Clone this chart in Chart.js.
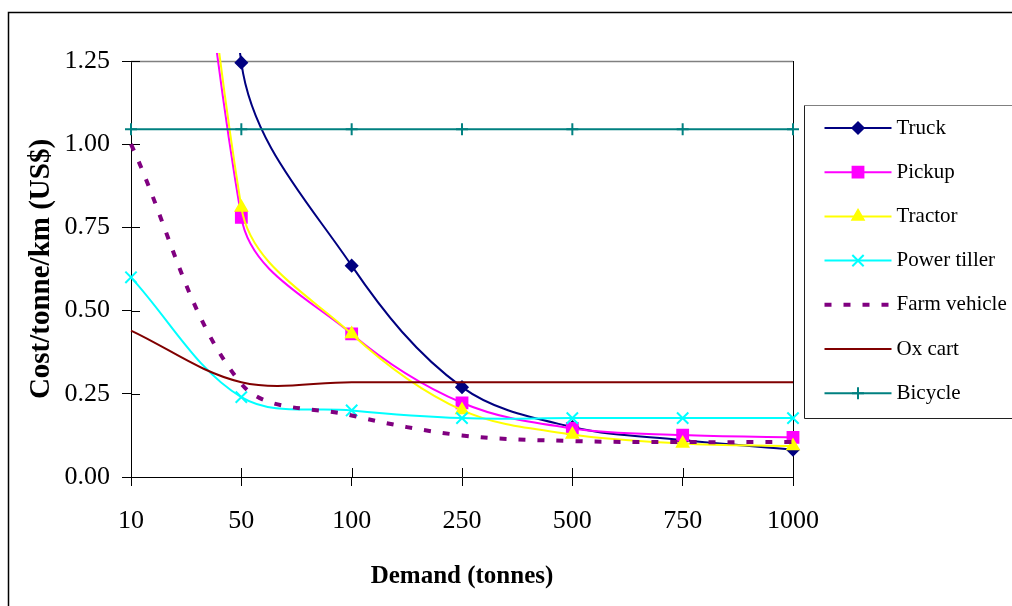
<!DOCTYPE html>
<html>
<head>
<meta charset="utf-8">
<script src="https://cdn.jsdelivr.net/npm/chart.js@4.4.1/dist/chart.umd.min.js"></script>
<style>
  html, body { margin: 0; padding: 0; background: #ffffff; }
  #wrap { width: 1012px; height: 606px; position: relative; }
</style>
</head>
<body>
<div id="wrap"><canvas id="c" width="1012" height="606"></canvas></div>
<script>
// ---- data ----
const categories = ['10', '50', '100', '250', '500', '750', '1000'];
const truck       = [5.5, 1.245, 0.635, 0.27, 0.15, 0.111, 0.082];
const pickup      = [4.4, 0.78, 0.43, 0.223, 0.146, 0.126, 0.119];
const tractor     = [4.6, 0.81, 0.43, 0.201, 0.128, 0.101, 0.093];
const powerTiller = [0.60, 0.24, 0.20, 0.177, 0.177, 0.177, 0.177];
const farmVehicle = [1.0, 0.28, 0.185, 0.125, 0.108, 0.105, 0.105];
const oxCart      = [0.44, 0.285, 0.285, 0.285, 0.285, 0.285, 0.285];
const bicycle     = [1.045, 1.045, 1.045, 1.045, 1.045, 1.045, 1.045];
const yTickValues = [0, 0.25, 0.5, 0.75, 1.0, 1.25];
const seriesNames = ['Truck', 'Pickup', 'Tractor', 'Power tiller', 'Farm vehicle', 'Ox cart', 'Bicycle'];

const SERIF = "'Liberation Serif', 'Times New Roman', serif";

function ds(i, data, color, style, radius, extra) {
  return Object.assign({
    label: seriesNames[i],
    data: data,
    borderColor: color,
    backgroundColor: color,
    pointBackgroundColor: color,
    pointBorderColor: color,
    borderWidth: 2,
    pointStyle: style,
    pointRadius: radius,
    pointBorderWidth: 1.5,
    tension: 0.35,
    fill: false,
    order: 6 - i,
    clip: { left: 8, top: 8, right: 8, bottom: 8 }
  }, extra || {});
}

const datasets = [
  ds(0, truck, '#000080', 'rectRot', 6),
  ds(1, pickup, '#FF00FF', 'rect', 8),
  ds(2, tractor, '#FFFF00', 'triangle', 7),
  ds(3, powerTiller, '#00FFFF', 'crossRot', 8, { pointBorderWidth: 2 }),
  ds(4, farmVehicle, '#800080', false, 0, { borderWidth: 4, borderDash: [7, 12], pointRadius: 0 }),
  ds(5, oxCart, '#800000', false, 0, { pointRadius: 0 }),
  ds(6, bicycle, '#008080', 'cross', 6, { pointBorderWidth: 2 })
];

const frame = {
  id: 'frame',
  beforeDatasetsDraw(chart) {
    const { ctx, chartArea: a } = chart;
    ctx.save();
    ctx.lineWidth = 1.5;
    ctx.strokeStyle = '#808080';
    ctx.beginPath();
    ctx.moveTo(a.left, a.top + 0.5);
    ctx.lineTo(a.right, a.top + 0.5);
    ctx.stroke();
    ctx.strokeStyle = '#000000';
    ctx.lineWidth = 1;
    ctx.beginPath();
    ctx.moveTo(a.right + 0.5, a.top);
    ctx.lineTo(a.right + 0.5, a.bottom);
    ctx.stroke();
    // inner halves of the crossing tick marks
    const ys = chart.scales.y, xs = chart.scales.x;
    ctx.lineWidth = 1;
    ctx.beginPath();
    ys.ticks.forEach((t, i) => {
      const p = Math.round(ys.getPixelForTick(i)) + 0.5;
      ctx.moveTo(a.left, p);
      ctx.lineTo(a.left + 9, p);
    });
    xs.ticks.forEach((t, i) => {
      const p = Math.round(xs.getPixelForTick(i)) + 0.5;
      ctx.moveTo(p, a.bottom);
      ctx.lineTo(p, a.bottom - 9);
    });
    ctx.stroke();
    ctx.restore();
  },
  afterDraw(chart) {
    const { ctx, chartArea: a } = chart;
    ctx.save();
    // outer chart border
    ctx.strokeStyle = '#000000';
    ctx.lineWidth = 1.5;
    ctx.strokeRect(8.5, 12.5, 1200, 800);
    // legend box
    const lx = a.right + 11.5, ly = 105.5, lh = 313;
    ctx.lineWidth = 1;
    ctx.strokeStyle = '#808080';
    ctx.beginPath();
    ctx.moveTo(lx, ly); ctx.lineTo(1012, ly);
    ctx.stroke();
    ctx.strokeStyle = '#202020';
    ctx.beginPath();
    ctx.moveTo(lx, ly); ctx.lineTo(lx, ly + lh); ctx.lineTo(1012, ly + lh);
    ctx.stroke();
    const step = 44.2;
    chart.data.datasets.forEach((d, i) => {
      const y = 128 + i * step;
      const x0 = lx + 20, x1 = lx + 87, xm = (x0 + x1) / 2;
      ctx.save();
      ctx.strokeStyle = d.borderColor;
      ctx.lineWidth = d.borderWidth;
      ctx.setLineDash(d.borderDash || []);
      ctx.beginPath();
      ctx.moveTo(x0, y); ctx.lineTo(x1, y);
      ctx.stroke();
      ctx.setLineDash([]);
      if (d.pointStyle && d.pointRadius > 0) {
        ctx.fillStyle = d.pointBackgroundColor;
        ctx.strokeStyle = d.pointBorderColor;
        ctx.lineWidth = d.pointBorderWidth;
        Chart.helpers.drawPoint(ctx, { pointStyle: d.pointStyle, rotation: 0, radius: d.pointRadius, borderWidth: d.pointBorderWidth }, xm, y);
      }
      ctx.restore();
      ctx.fillStyle = '#000000';
      ctx.font = '21px ' + SERIF;
      ctx.textBaseline = 'middle';
      ctx.textAlign = 'left';
      ctx.fillText(d.label, lx + 92, y);
    });
    ctx.restore();
  }
};

new Chart(document.getElementById('c'), {
  type: 'line',
  data: { labels: categories, datasets: datasets },
  plugins: [frame],
  options: {
    responsive: false,
    animation: false,
    devicePixelRatio: 1,
    layout: { padding: { top: 61, right: 219, left: 0, bottom: 0 } },
    elements: { line: { capBezierPoints: false } },
    plugins: { legend: { display: false }, tooltip: { enabled: false } },
    scales: {
      x: {
        type: 'category',
        offset: false,
        grid: { drawOnChartArea: false, drawTicks: true, tickLength: 9, color: '#000000' },
        border: { display: true, color: '#000000', width: 1 },
        ticks: { color: '#000000', padding: 20, maxRotation: 0, autoSkip: false, font: { family: SERIF, size: 26 } },
        title: { display: true, text: 'Demand (tonnes)', color: '#000000', padding: { top: 0, bottom: 14 }, font: { family: SERIF, size: 25, weight: 'bold' } },
        afterFit(s) { s.height = 129; }
      },
      y: {
        min: 0,
        max: 1.25,
        afterBuildTicks(s) { s.ticks = yTickValues.map(v => ({ value: v })); },
        grid: { drawOnChartArea: false, drawTicks: true, tickLength: 9, color: '#000000' },
        border: { display: true, color: '#000000', width: 1 },
        ticks: { color: '#000000', padding: 12, font: { family: SERIF, size: 26 }, callback: v => Number(v).toFixed(2) },
        title: { display: true, text: 'Cost/tonne/km (US$)', color: '#000000', padding: { top: 24, bottom: 0 }, font: { family: SERIF, size: 29, weight: 'bold' } },
        afterFit(s) { s.width = 131; }
      }
    }
  }
});
</script>
</body>
</html>
